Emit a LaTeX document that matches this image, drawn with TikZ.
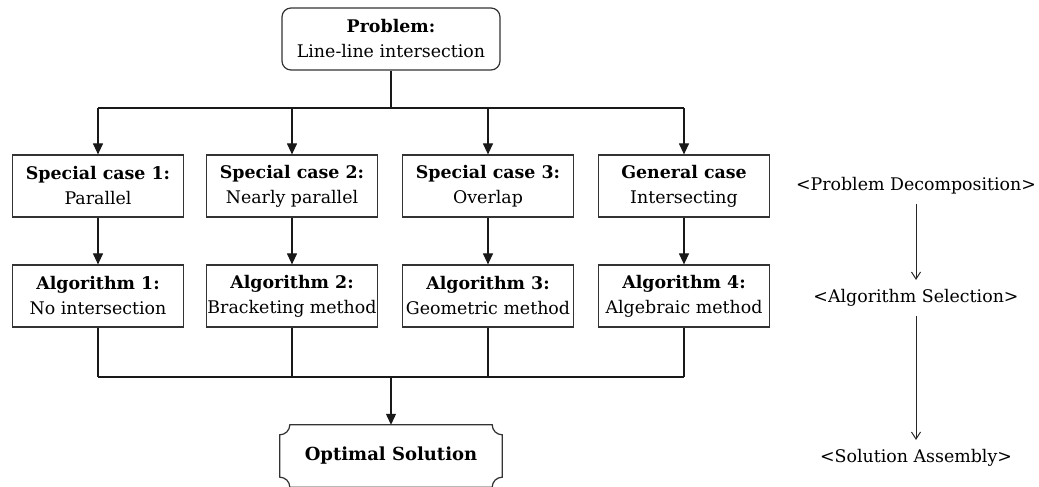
\documentclass[tikz,border=0pt]{standalone}
\usepackage{fontspec}
\setmainfont{DejaVu Serif}
\usetikzlibrary{arrows.meta,calc}
\begin{document}
\begin{tikzpicture}[x=1pt,y=1pt,
  box/.style={draw=black!80, line width=1.2pt, minimum width=171pt, minimum height=62pt, align=center, inner sep=1pt, font=\fontsize{17.4}{25}\selectfont},
  probbox/.style={box, rounded corners=9pt, minimum width=218pt},
  conn/.style={line width=1.2pt, black!90},
  arr/.style={conn, -{Triangle[length=11pt,width=10pt]}},
  side/.style={font=\fontsize{17.4}{20}\selectfont},
  sarr/.style={line width=1pt, black!85, -{Straight Barb[length=7pt,width=9pt]}}]
\useasboundingbox (0,0) rectangle (1039,487);
\node[probbox] (prob) at (391,448) {\textbf{Problem:}\\Line-line intersection};
\node[box] (s1) at (98,301) {\textbf{Special case 1:}\\Parallel};
\node[box] (s2) at (292,301) {\textbf{Special case 2:}\\Nearly parallel};
\node[box] (s3) at (488,301) {\textbf{Special case 3:}\\Overlap};
\node[box] (s4) at (684,301) {\textbf{General case}\\Intersecting};
\node[box] (a1) at (98,191) {\textbf{Algorithm 1:}\\No intersection};
\node[box] (a2) at (292,191) {\textbf{Algorithm 2:}\\Bracketing method};
\node[box] (a3) at (488,191) {\textbf{Algorithm 3:}\\Geometric method};
\node[box] (a4) at (684,191) {\textbf{Algorithm 4:}\\Algebraic method};
\node[minimum width=222pt, minimum height=62pt, font=\fontsize{18}{20}\selectfont\bfseries] (opt) at (391,31) {Optimal Solution};
\draw[draw=black!80, line width=1.2pt]
  ([xshift=10pt]opt.north west) -- ([xshift=-10pt]opt.north east)
  arc[start angle=180, end angle=270, radius=10pt]
  -- ([yshift=10pt]opt.south east)
  arc[start angle=90, end angle=180, radius=10pt]
  -- ([xshift=10pt]opt.south west)
  arc[start angle=0, end angle=90, radius=10pt]
  -- ([yshift=-10pt]opt.north west)
  arc[start angle=270, end angle=360, radius=10pt] -- cycle;
% top bus
\coordinate (b1) at (391,379);
\draw[conn] (prob.south) -- (b1);
\draw[conn] (b1 -| s1.north) -- (b1 -| s4.north);
\foreach \n in {s1,s2,s3,s4} \draw[arr] (b1 -| \n.north) -- (\n.north);
\foreach \i in {1,2,3,4} \draw[arr] (s\i.south) -- (a\i.north);
% bottom bus
\coordinate (b2) at (391,110);
\foreach \n in {a1,a2,a3,a4} \draw[conn] (\n.south) -- (b2 -| \n.south);
\draw[conn] (b2 -| a1.south) -- (b2 -| a4.south);
\draw[arr] (b2) -- (opt.north);
% side
\node[side] (l1) at (916,301) {<Problem Decomposition>};
\node[side] (l2) at (916,189) {<Algorithm Selection>};
\node[side] (l3) at (916,29) {<Solution Assembly>};
\draw[sarr] ([yshift=-6pt]l1.south) -- ([yshift=6pt]l2.north);
\draw[sarr] ([yshift=-6pt]l2.south) -- ([yshift=6pt]l3.north);
\end{tikzpicture}
\end{document}
